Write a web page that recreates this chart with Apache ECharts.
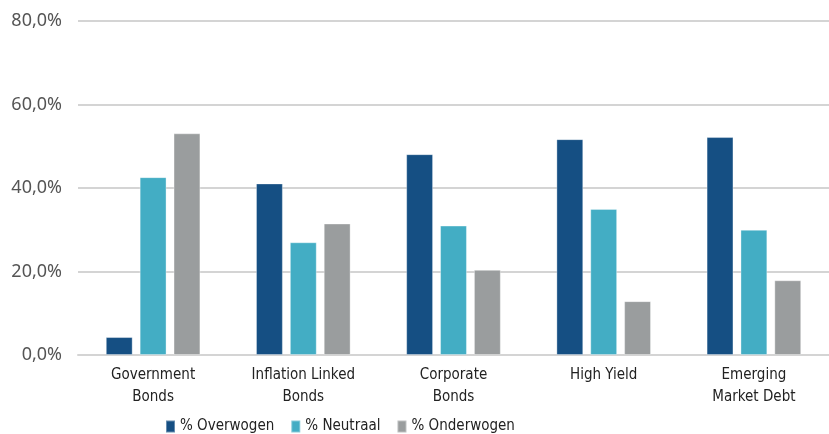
<!DOCTYPE html>
<html>
<head>
<meta charset="utf-8">
<script src="https://cdn.jsdelivr.net/npm/echarts@6/dist/echarts.min.js"></script>
<style>html,body{margin:0;padding:0;background:#fff}#c{width:829px;height:434px}</style>
</head>
<body>
<div id="c"></div>
<script>
var categories = ['Government\nBonds', 'Inflation Linked\nBonds', 'Corporate\nBonds', 'High Yield', 'Emerging\nMarket Debt'];
var seriesNames = ['% Overwogen', '% Neutraal', '% Onderwogen'];
var overwogen = [4.3, 41.1, 48.1, 51.7, 52.2];
var neutraal = [42.6, 27.0, 31.0, 35.0, 30.0];
var onderwogen = [53.1, 31.5, 20.4, 12.9, 17.9];
var yTicks = [0, 20, 40, 60, 80];

var colors = ['#154f83', '#43adc4', '#9a9d9e'];
var chart = echarts.init(document.getElementById('c'));
var narrow = '"DejaVu Sans Condensed", "Liberation Sans Narrow", sans-serif';
function mk(name, data, i) {
  return {
    name: name, type: 'bar', data: data,
    barGap: '26%', barCategoryGap: '37%',
    itemStyle: { color: colors[i], borderColor: 'rgba(255,255,255,0.35)', borderWidth: 1 }
  };
}
chart.setOption({
  animation: false,
  color: colors,
  grid: { left: 78, right: 0, top: 21, bottom: 79 },
  legend: {
    left: 160, top: 414, itemWidth: 9, itemHeight: 12, itemGap: 16,
    icon: 'rect',
    textStyle: { fontFamily: narrow, fontSize: 15, color: '#222' },
    data: seriesNames
  },
  xAxis: {
    type: 'category', data: categories,
    axisLine: { lineStyle: { color: '#d4d4d4', width: 2 } },
    axisTick: { show: false },
    axisLabel: { fontFamily: narrow, fontSize: 15, color: '#222', margin: 9, lineHeight: 22 }
  },
  yAxis: {
    type: 'value', min: yTicks[0], max: yTicks[yTicks.length - 1], interval: 20,
    axisLine: { show: false }, axisTick: { show: false },
    splitLine: { lineStyle: { color: '#d4d4d4', width: 2 } },
    axisLabel: {
      margin: 16, fontFamily: '"Noto Sans", sans-serif', fontSize: 18, color: '#555',
      formatter: function (v) { return v.toFixed(1).replace('.', ',') + '%'; }
    }
  },
  series: [mk(seriesNames[0], overwogen, 0), mk(seriesNames[1], neutraal, 1), mk(seriesNames[2], onderwogen, 2)]
});
</script>
</body>
</html>
